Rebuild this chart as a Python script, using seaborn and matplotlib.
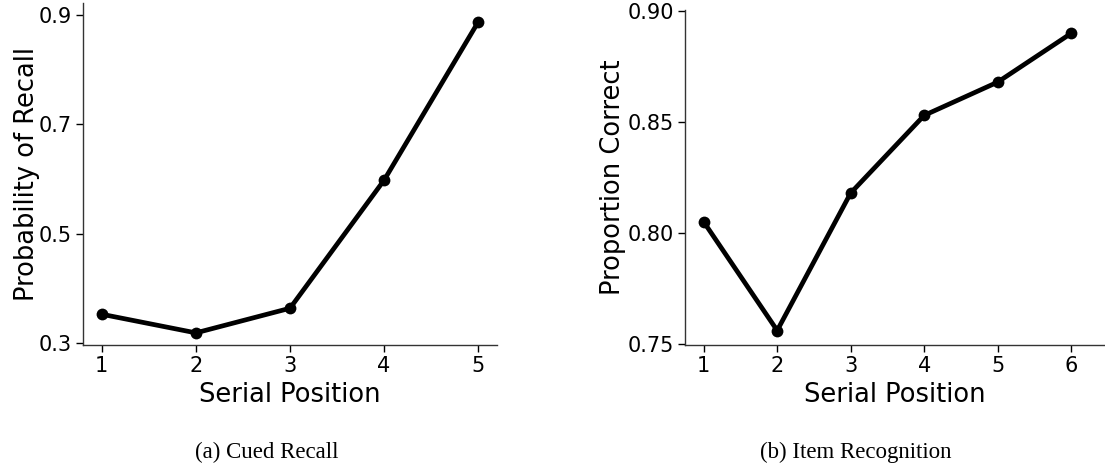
import numpy as np
import pandas as pd
import matplotlib
matplotlib.use('Agg')
import matplotlib.pyplot as plt
import seaborn as sns

# (a) cued recall
cued_positions = [1, 2, 3, 4, 5]
cued_recall = [0.353, 0.319, 0.364, 0.598, 0.887]

# (b) item recognition
item_positions = [1, 2, 3, 4, 5, 6]
item_correct = [0.805, 0.756, 0.818, 0.853, 0.868, 0.890]

sns.set_style('ticks')
plt.rcParams['font.family'] = ['DejaVu Sans']
plt.rcParams['text.color'] = 'black'
plt.rcParams['axes.labelcolor'] = 'black'

fig = plt.figure(figsize=(11.05, 4.68), dpi=100)
ax1 = fig.add_axes([0.0751, 0.263, 0.3747, 0.731])
ax2 = fig.add_axes([0.6202, 0.263, 0.3798, 0.7165])

cued_df = pd.DataFrame({'Serial Position': cued_positions, 'Probability of Recall': cued_recall})
item_df = pd.DataFrame({'Serial Position': item_positions, 'Proportion Correct': item_correct})

sns.lineplot(data=cued_df, x='Serial Position', y='Probability of Recall', ax=ax1,
             color='black', linewidth=3.4, marker='o', markersize=8.5, markeredgewidth=0)
sns.lineplot(data=item_df, x='Serial Position', y='Proportion Correct', ax=ax2,
             color='black', linewidth=3.4, marker='o', markersize=8.5, markeredgewidth=0)

ax1.set_xlim(0.8, 5.2)
ax1.set_ylim(0.297, 0.922)
ax1.set_xticks(cued_positions)
ax1.set_yticks([0.3, 0.5, 0.7, 0.9])
ax1.set_yticklabels(['0.3', '0.5', '0.7', '0.9'])

ax2.set_xlim(0.75, 6.46)
ax2.set_ylim(0.7495, 0.9007)
ax2.set_xticks(item_positions)
ax2.set_yticks([0.75, 0.80, 0.85, 0.90])
ax2.set_yticklabels(['0.75', '0.80', '0.85', '0.90'])

for ax in (ax1, ax2):
    sns.despine(ax=ax)
    ax.tick_params(labelsize=15, colors='black', length=5, width=1, pad=3)
    ax.xaxis.label.set_size(18.5)
    ax.yaxis.label.set_size(18.5)
    ax.xaxis.labelpad = 4
    for s in ('left', 'bottom'):
        ax.spines[s].set_color('#333333')
        ax.spines[s].set_linewidth(1)

ax1.yaxis.labelpad = -1
ax2.yaxis.labelpad = 1.5

fig.text(0.2416, 0.034, '(a) Cued Recall', ha='center', va='center',
         family='Liberation Serif', fontsize=16.5, color='black')
fig.text(0.7747, 0.034, '(b) Item Recognition', ha='center', va='center',
         family='Liberation Serif', fontsize=16.5, color='black')

fig.savefig('out.png', dpi=100)
